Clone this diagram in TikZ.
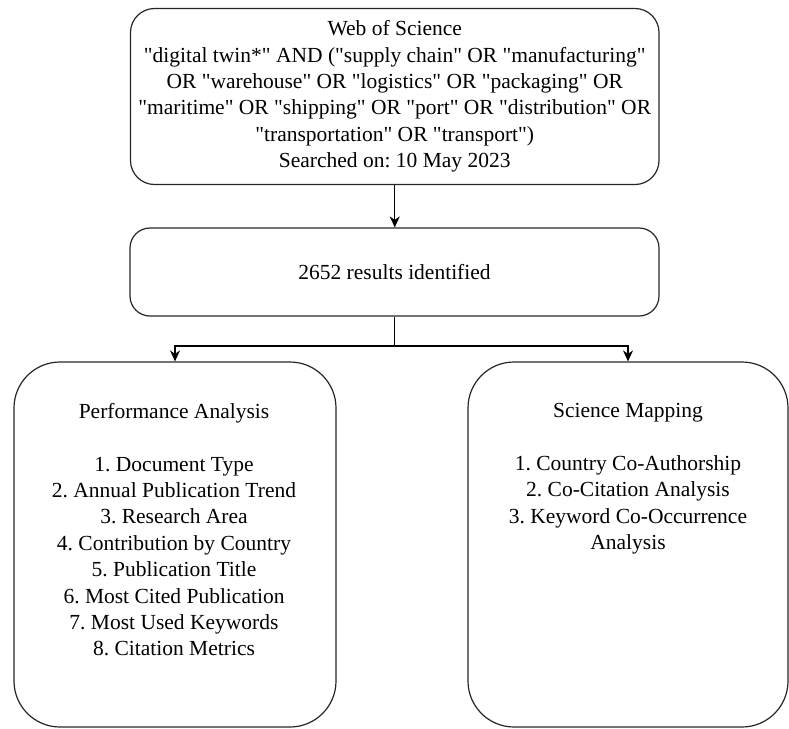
\documentclass[tikz,border=0pt]{standalone}
\usepackage{fontspec}
\setmainfont{Liberation Serif}[Ligatures=TeXOff]
\frenchspacing
\usetikzlibrary{arrows.meta}
\begin{document}
\begin{tikzpicture}[x=1pt,y=-1pt,
  box/.style={draw=black!85, line width=1.2pt, inner sep=0pt, align=center,
    font=\fontsize{21.5}{26.4}\selectfont\frenchspacing},
  txt/.style={align=center, inner sep=0pt, font=\fontsize{21.5}{26.4}\selectfont\frenchspacing},
  conn/.style={line width=1.2pt, draw=black, -{Stealth[length=11pt,width=10pt,inset=3.5pt]}},
  plain/.style={line width=1.2pt, draw=black}]
\useasboundingbox (0,0) rectangle (789,728);
\node[box, rounded corners=24pt, minimum width=528.5pt, minimum height=176pt] (wos) at (394.75,96.5)
  {Web of Science\\
   "digital twin*" AND ("supply chain" OR "manufacturing"\\
   OR "warehouse" OR "logistics" OR "packaging" OR\\
   "maritime" OR "shipping" OR "port" OR "distribution" OR\\
   "transportation" OR "transport")\\
   Searched on: 10 May 2023};
\node[box, rounded corners=20pt, minimum width=529pt, minimum height=88pt] (res) at (394.5,272)
  {2652 results identified};
\node[box, rounded corners=46pt, minimum width=322pt, minimum height=365pt] (pa) at (175,544.5) {};
\node[box, rounded corners=46pt, minimum width=320pt, minimum height=365pt] (sm) at (628,544.5) {};
\node[txt, anchor=north] (patext) at (174,403)
  {Performance Analysis\\[26.4pt]
   1. Document Type\\
   2. Annual Publication Trend\\
   3. Research Area\\
   4. Contribution by Country\\
   5. Publication Title\\
   6. Most Cited Publication\\
   7. Most Used Keywords\\
   8. Citation Metrics};
\node[txt, anchor=north] (smtext) at (628,403)
  {Science Mapping\\[26.4pt]
   1. Country Co-Authorship\\
   2. Co-Citation Analysis\\
   3. Keyword Co-Occurrence\\
   Analysis};
\coordinate (split) at (395,346);
\draw[conn] (wos.south) -- (wos.south |- res.north);
\draw[plain] (res.south) -- (res.south |- split);
\draw[conn] (res.south |- split) -| (pa.north);
\draw[conn] (res.south |- split) -| (sm.north);
\end{tikzpicture}
\end{document}
